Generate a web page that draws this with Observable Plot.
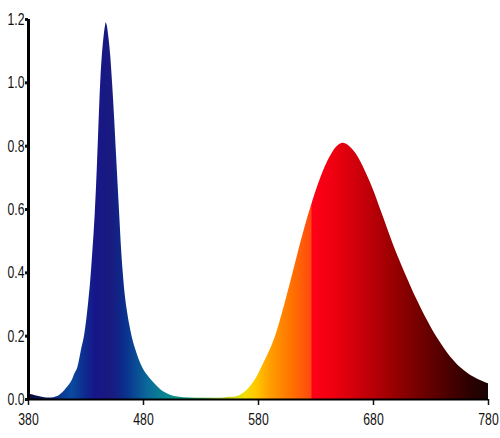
<!DOCTYPE html>
<html><head><meta charset="utf-8">
<script src="https://cdn.jsdelivr.net/npm/d3@7"></script>
<script src="https://cdn.jsdelivr.net/npm/@observablehq/plot@0.6"></script>
<style>
html,body{margin:0;padding:0;background:#fff;}
</style>
</head><body><div id="chart"></div>
<script>
// Spectrum (nm, relative intensity)
const wavelength = [380,384,388,392,396,400,404,407,410,413,416,418,420,423,426,429,431,432.5,434,435,436,437,438,439,440,441,442,443,444,445,446,447,447.5,448.5,450,451.5,453,454,455,456.5,458,459.5,461,462.5,464,466,468,470,473,476,479,483,487,491,495,499,504,510,520,530,540,550,556,560,564,568,572,576,580,584,588,592,596,600,604,608,612,616,620,624,628,632,636,640,644,648,652,654,657,661,665,669,673,677,681,685,689,693,697,701,705,709,713,717,721,725,729,733,737,741,745,749,753,757,761,765,769,773,777,780];
const intensity = [0.018,0.014,0.010,0.007,0.005,0.005,0.008,0.013,0.022,0.035,0.048,0.060,0.078,0.102,0.155,0.207,0.262,0.313,0.370,0.418,0.470,0.523,0.585,0.660,0.745,0.840,0.935,1.015,1.075,1.120,1.155,1.180,1.190,1.180,1.140,1.085,1.005,0.945,0.880,0.775,0.672,0.570,0.470,0.395,0.334,0.279,0.236,0.200,0.160,0.128,0.103,0.079,0.061,0.045,0.031,0.021,0.013,0.008,0.005,0.004,0.004,0.005,0.007,0.008,0.013,0.022,0.036,0.055,0.080,0.110,0.140,0.172,0.212,0.262,0.315,0.370,0.427,0.484,0.538,0.588,0.635,0.678,0.717,0.750,0.777,0.797,0.808,0.809,0.805,0.793,0.775,0.750,0.720,0.688,0.652,0.612,0.572,0.531,0.492,0.455,0.420,0.386,0.353,0.321,0.291,0.262,0.235,0.209,0.186,0.164,0.144,0.126,0.110,0.097,0.085,0.075,0.067,0.060,0.054,0.050];

const xTicks = [380,480,580,680,780];
const yTicks = [0,0.2,0.4,0.6,0.8,1.0,1.2];

// Fill colour along the wavelength axis
const stopWavelengths = [380,395,410,418,428,438,452,462,468,484,502,515,525,532,545,556,568,578,590,610,626,627,645,675,703,732,762,780];
const stopColors = ["#0a0a35","#0b1a60","#0a3c95","#0a4aa0","#0d2e90","#16168a","#1a1a80","#0c2a8a","#0a3a90","#0a6a9a","#0a8a90","#0c9a80","#1aa050","#30a838","#90c828","#c8d818","#f0e000","#ffc800","#ffa000","#ff7000","#ff4a10","#ff0018","#f00010","#c00008","#900000","#600000","#300000","#180505"];

const data = wavelength.map((w, i) => ({w, v: intensity[i]}));
const xDomain = [380, 780];
const FONT = "'Liberation Sans Narrow', 'Liberation Sans', sans-serif";
const SX = 0.72;

const chart = Plot.plot({
  width: 500, height: 438,
  marginLeft: 28, marginRight: 12, marginTop: 19, marginBottom: 39,
  style: {fontFamily: FONT, fontSize: "17px", color: "#111", background: "#fff"},
  x: {domain: xDomain, ticks: xTicks, tickSize: 6, tickPadding: 7, label: null},
  y: {domain: [0, 1.2], ticks: yTicks, tickSize: 3, tickPadding: 1, tickFormat: d3.format(".1f"), label: null},
  marks: [
    Plot.areaY(data, {x: "w", y: "v", fill: "url(#spectrum)", curve: "monotone-x"}),
    Plot.ruleX([380], {stroke: "#000", strokeWidth: 3}),
    Plot.ruleY([0], {stroke: "#000", strokeWidth: 2})
  ]
});

const svg = d3.select(chart);
const grad = svg.insert("defs", ":first-child").append("linearGradient")
  .attr("id", "spectrum").attr("x1", 0).attr("x2", 1).attr("y1", 0).attr("y2", 0);
stopWavelengths.forEach((w, i) => {
  grad.append("stop")
    .attr("offset", (w - xDomain[0]) / (xDomain[1] - xDomain[0]))
    .attr("stop-color", stopColors[i]);
});

document.getElementById("chart").appendChild(chart);

// axis tick styling
chart.querySelectorAll('[aria-label^="y-axis"] line, [aria-label^="y-axis"] path').forEach(e => e.setAttribute("stroke-width", 3));
chart.querySelectorAll('[aria-label^="x-axis"] line, [aria-label^="x-axis"] path').forEach(e => e.setAttribute("stroke-width", 1.5));

// condensed tick labels: scale horizontally about their anchor
chart.querySelectorAll("text").forEach(t => {
  const xa = t.getAttribute("x");
  const xn = xa == null ? 0 : +xa;
  if (isFinite(xn)) t.setAttribute("x", xn / SX);
  const tr = t.getAttribute("transform") || "";
  t.setAttribute("transform", `${tr} scale(${SX},1)`);
  t.setAttribute("font-size", 17);
  t.setAttribute("font-family", FONT);
  t.setAttribute("fill", "#111");
  t.setAttribute("stroke", "none");
  t.style.stroke = "none";
});
</script>
</body></html>
